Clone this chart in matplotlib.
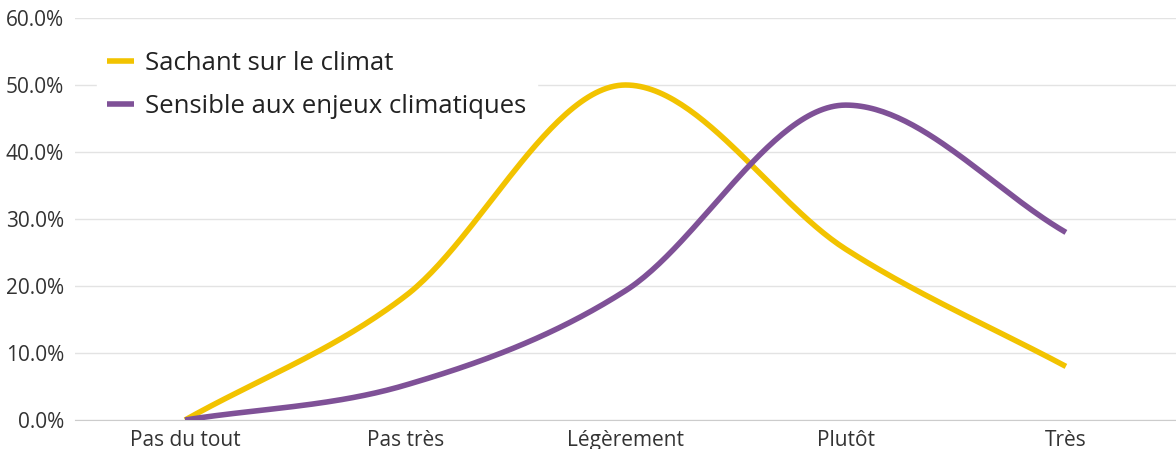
import numpy as np
import matplotlib.pyplot as plt

categories = ['Pas du tout', 'Pas très', 'Légèrement', 'Plutôt', 'Très']
sachant = [0.0, 18.5, 50.0, 25.5, 8.0]
sensible = [0.0, 5.2, 19.3, 47.0, 28.0]
y_ticks = [0, 10, 20, 30, 40, 50, 60]


def monotone_curve(y, n=60):
    # monotone cubic hermite (Fritsch-Carlson) between the category points
    y = np.asarray(y, dtype=float)
    x = np.arange(len(y), dtype=float)
    d = np.diff(y)
    m = np.zeros(len(y))
    m[0], m[-1] = d[0], d[-1]
    for i in range(1, len(y) - 1):
        m[i] = 0 if d[i - 1] * d[i] <= 0 else (d[i - 1] + d[i]) / 2
    for i in range(len(d)):
        if d[i] == 0:
            m[i] = m[i + 1] = 0
            continue
        a, b = m[i] / d[i], m[i + 1] / d[i]
        s = a * a + b * b
        if s > 9:
            t = 3 / np.sqrt(s)
            m[i], m[i + 1] = t * a * d[i], t * b * d[i]
    xs, ys = [], []
    for i in range(len(d)):
        t = np.linspace(0, 1, n)
        h00 = 2 * t**3 - 3 * t**2 + 1
        h10 = t**3 - 2 * t**2 + t
        h01 = -2 * t**3 + 3 * t**2
        h11 = t**3 - t**2
        xs.append(x[i] + t)
        ys.append(h00 * y[i] + h10 * m[i] + h01 * y[i + 1] + h11 * m[i + 1])
    return np.concatenate(xs), np.concatenate(ys)


plt.rcParams['font.family'] = ['Open Sans', 'DejaVu Sans']
fig = plt.figure(figsize=(11.76, 4.49), dpi=100)
ax = fig.add_axes([75 / 1176, 1 - 420 / 449, 1101 / 1176, 402 / 449])

yellow = '#F2C300'
purple = '#7F5197'
cx, cy = monotone_curve(sachant)
ax.plot(cx, cy, color=yellow, lw=4, solid_capstyle='butt', label='Sachant sur le climat', zorder=3)
cx, cy = monotone_curve(sensible)
ax.plot(cx, cy, color=purple, lw=4, solid_capstyle='butt', label='Sensible aux enjeux climatiques', zorder=3)

ax.set_xlim(-0.5, 4.5)
ax.set_ylim(0, 60)
ax.set_yticks(y_ticks)
ax.set_yticklabels([f'{v:.1f}%' for v in y_ticks])
ax.set_xticks(range(len(categories)))
ax.set_xticklabels(categories)
ax.grid(axis='y', color='#e3e3e3', lw=1)
ax.set_axisbelow(True)
for s in ['top', 'right', 'left']:
    ax.spines[s].set_visible(False)
ax.spines['bottom'].set_color('#cccccc')
ax.tick_params(axis='both', length=0, labelsize=15, colors='#333333')
ax.tick_params(axis='x', pad=7)
ax.tick_params(axis='y', pad=8)

leg = ax.legend(loc='upper left', bbox_to_anchor=(0.008, 0.975), fontsize=18.5, frameon=True,
                fancybox=False, framealpha=1, edgecolor='white', handlelength=1.05,
                handletextpad=0.45, labelspacing=0.7, borderpad=0.4)
for t in leg.get_texts():
    t.set_color('#222222')

fig.savefig('out.png', dpi=100)
